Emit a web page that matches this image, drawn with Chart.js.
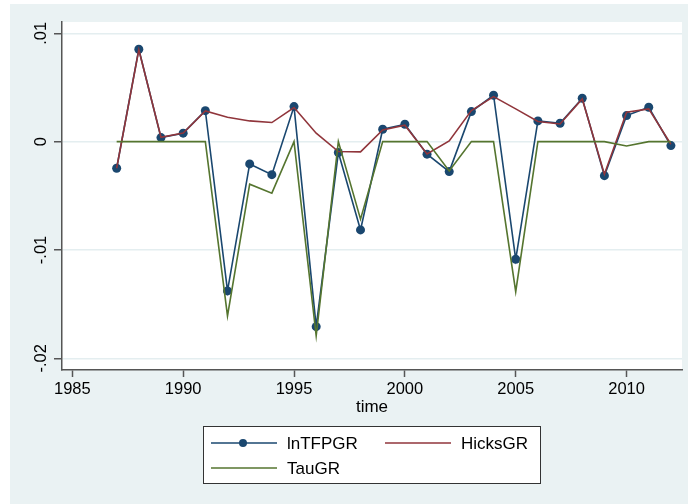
<!DOCTYPE html>
<html>
<head>
<meta charset="utf-8">
<script src="https://cdn.jsdelivr.net/npm/chart.js@4/dist/chart.umd.min.js"></script>
<style>
  html, body { margin: 0; padding: 0; background: #fff; }
  #wrap { width: 688px; height: 504px; position: relative; }
</style>
</head>
<body>
<div id="wrap"><canvas id="chart" width="688" height="504"></canvas></div>
<script>
// Data
const years = [1987, 1988, 1989, 1990, 1991, 1992, 1993, 1994, 1995, 1996, 1997, 1998, 1999,
               2000, 2001, 2002, 2003, 2004, 2005, 2006, 2007, 2008, 2009, 2010, 2011, 2012];

const lnTFPGR = [-0.00246, 0.00853, 0.00037, 0.00078, 0.00286, -0.01378, -0.00206, -0.00305, 0.00323,
                 -0.01708, -0.00101, -0.00815, 0.00114, 0.0016, -0.00116, -0.00277, 0.00277, 0.00428,
                 -0.01086, 0.00191, 0.0017, 0.004, -0.00314, 0.0024, 0.00317, -0.00037];

const hicksGR = [-0.00246, 0.00848, 0.0004, 0.0008, 0.00283, 0.00225, 0.00191, 0.00176, 0.00314,
                 0.00078, -0.00092, -0.00095, 0.00108, 0.00151, -0.00114, 0.00006, 0.00286, 0.00415,
                 0.00302, 0.00185, 0.00163, 0.00394, -0.00301, 0.00271, 0.00302, -0.00024];

const tauGR = [0, 0, 0, 0, 0, -0.01609, -0.00393, -0.00476, 0,
               -0.01791, 0, -0.00716, 0, 0, 0, -0.0027, 0, 0,
               -0.01385, 0, 0, 0, 0, -0.0004, 0, 0];

const seriesNames = ['lnTFPGR', 'HicksGR', 'TauGR'];
const xTicks = [1985, 1990, 1995, 2000, 2005, 2010];
const yTicks = [-0.02, -0.01, 0, 0.01];
const yTickLabels = ['-.02', '-.01', '0', '.01'];
const xTitle = 'time';

const NAVY = '#1a476f', RED = '#90353b', GREEN = '#55752f';
const BG = '#eaf2f3';
const FONT = '"Liberation Sans", Arial, sans-serif';

function pts(vals) {
  return years.map((yr, i) => ({ x: yr, y: vals[i] }));
}

// backgrounds, rotated y labels, axis title and legend
const stataDecor = {
  id: 'stataDecor',
  beforeDraw(chart) {
    const ctx = chart.ctx;
    const a = chart.chartArea;
    ctx.save();
    ctx.fillStyle = '#fff';
    ctx.fillRect(0, 0, chart.width, chart.height);
    ctx.fillStyle = BG;
    ctx.fillRect(10, 4, chart.width - 10, chart.height - 4);
    ctx.fillStyle = '#fff';
    ctx.fillRect(a.left, a.top, a.right - a.left, a.bottom - a.top);
    ctx.restore();
  },
  afterDraw(chart) {
    const ctx = chart.ctx;
    const a = chart.chartArea;
    const ys = chart.scales.y;
    ctx.save();
    ctx.fillStyle = '#000';
    ctx.font = '16.5px ' + FONT;
    ctx.textAlign = 'center';
    ctx.textBaseline = 'middle';
    yTicks.forEach((v, i) => {
      ctx.save();
      ctx.translate(41, ys.getPixelForValue(v));
      ctx.rotate(-Math.PI / 2);
      ctx.fillText(yTickLabels[i], 0, 0);
      ctx.restore();
    });

    ctx.font = '17px ' + FONT;
    ctx.fillText(xTitle, (a.left + a.right) / 2, 407);

    // legend box
    const lx = 203, ly = 426, lw = 337, lh = 57;
    ctx.fillStyle = '#fff';
    ctx.fillRect(lx, ly, lw, lh);
    ctx.strokeStyle = '#333';
    ctx.lineWidth = 1;
    ctx.strokeRect(lx + 0.5, ly + 0.5, lw, lh);

    const items = [
      { name: seriesNames[0], color: NAVY, x: 211, y: 443, marker: true },
      { name: seriesNames[1], color: RED, x: 385, y: 443, marker: false },
      { name: seriesNames[2], color: GREEN, x: 211, y: 468, marker: false }
    ];
    ctx.textAlign = 'left';
    items.forEach(it => {
      ctx.strokeStyle = it.color;
      ctx.lineWidth = 1.6;
      ctx.beginPath();
      ctx.moveTo(it.x, it.y);
      ctx.lineTo(it.x + 66, it.y);
      ctx.stroke();
      if (it.marker) {
        ctx.fillStyle = it.color;
        ctx.beginPath();
        ctx.arc(it.x + 32, it.y, 4, 0, Math.PI * 2);
        ctx.fill();
      }
      ctx.fillStyle = '#000';
      ctx.fillText(it.name, it.x + 76, it.y + 1);
    });
    ctx.restore();
  }
};

new Chart(document.getElementById('chart'), {
  type: 'line',
  data: {
    datasets: [
      {
        label: seriesNames[0], data: pts(lnTFPGR), order: 3,
        borderColor: NAVY, borderWidth: 1.6, tension: 0,
        pointRadius: 4.5, pointBackgroundColor: NAVY, pointBorderWidth: 0
      },
      {
        label: seriesNames[1], data: pts(hicksGR), order: 2,
        borderColor: RED, borderWidth: 1.6, tension: 0, pointRadius: 0
      },
      {
        label: seriesNames[2], data: pts(tauGR), order: 1,
        borderColor: GREEN, borderWidth: 1.6, tension: 0, pointRadius: 0
      }
    ]
  },
  options: {
    responsive: false,
    animation: false,
    layout: { padding: { top: 22, right: 6, left: 0, bottom: 0 } },
    plugins: { legend: { display: false }, tooltip: { enabled: false } },
    scales: {
      x: {
        type: 'linear',
        min: 1984.535, max: 2012.5,
        afterFit(s) { s.height = 134; },
        afterBuildTicks(s) { s.ticks = xTicks.map(v => ({ value: v })); },
        border: { display: true, color: '#555', width: 1.5 },
        grid: { drawOnChartArea: false, drawTicks: true, tickLength: 7, tickColor: '#555', tickWidth: 1.5 },
        ticks: {
          color: '#000', font: { family: FONT, size: 16.5 }, padding: 3,
          maxRotation: 0, callback: v => String(v)
        }
      },
      y: {
        type: 'linear',
        min: -0.02108, max: 0.01104,
        afterFit(s) { s.width = 62; },
        afterBuildTicks(s) { s.ticks = yTicks.map(v => ({ value: v })); },
        border: { display: true, color: '#555', width: 1.5 },
        grid: { color: '#e4eef0', lineWidth: 1.5, drawTicks: true, tickLength: 8, tickColor: '#555', tickWidth: 1.5 },
        ticks: { display: false }
      }
    }
  },
  plugins: [stataDecor]
});
</script>
</body>
</html>
